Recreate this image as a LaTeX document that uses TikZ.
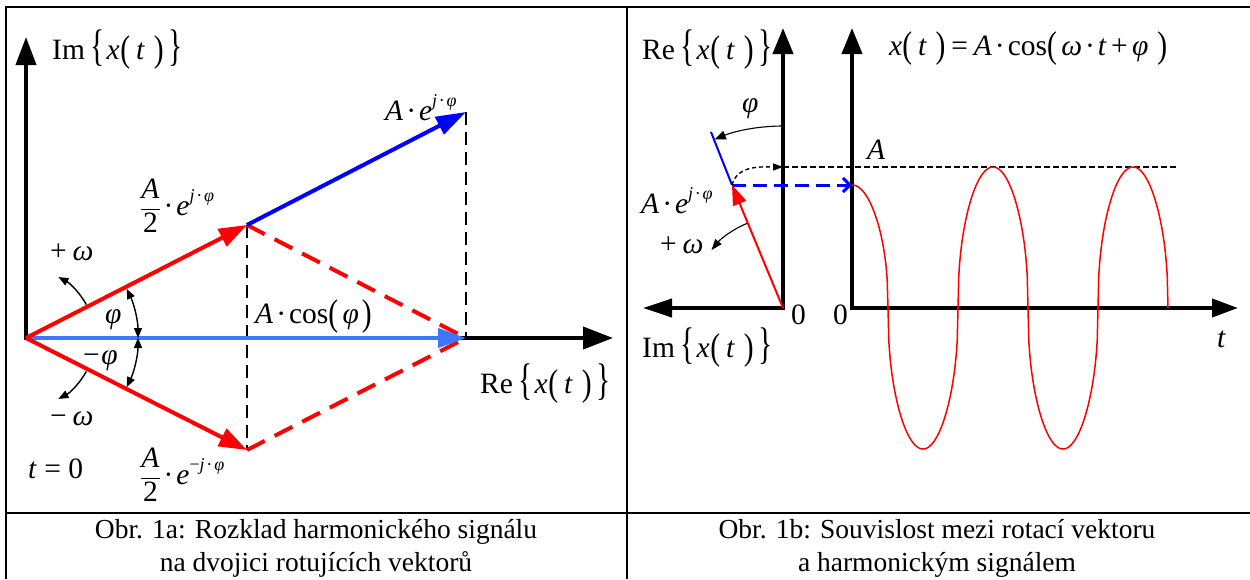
\documentclass[tikz,border=0pt]{standalone}
\usepackage{fontspec}
\setmainfont{Liberation Serif}
\usepackage{graphicx}
\usetikzlibrary{arrows.meta}
\newcommand{\Lp}{\raisebox{-0.07em}{\scalebox{1}[1.26]{(}}}
\newcommand{\Rp}{\raisebox{-0.07em}{\scalebox{1}[1.26]{)}}}
\newcommand{\Lb}{\raisebox{-0.06em}{\scalebox{1}[1.5]{\{}}}
\newcommand{\Rb}{\raisebox{-0.06em}{\scalebox{1}[1.5]{\}}}}
\newcommand{\xoft}{\Lb\kern0.05em\textit{x}\kern0.03em\Lp\kern0.2em\textit{t}\kern0.3em\Rp\kern0.15em\Rb}
\newcommand{\sups}[1]{\raisebox{0.45em}{\fontsize{18}{18}\selectfont #1}}
\newcommand{\cdt}{\kern0.1em·\kern0.1em}
\newcommand{\phii}{\textit{φ}}
\newcommand{\omg}{\textit{ω}}
\newcommand{\halfA}{$\displaystyle\frac{\mbox{\textit{A}}}{\mbox{2}}$}
\begin{document}
\begin{tikzpicture}[x=1pt,y=-1pt,
  declare function={pw(\c)=sqrt(sqrt(\c))*sqrt(sqrt(sqrt(\c)))*sqrt(sqrt(sqrt(sqrt(\c))));},
  lbl/.style={inner sep=0pt, anchor=base west, font=\fontsize{29.5}{32}\selectfont},
  captxt/.style={inner sep=0pt, anchor=base, font=\fontsize{27.5}{32}\selectfont},
  frameline/.style={line width=1.8pt, black},
  bigax/.style={line width=4pt, black},
  bdash/.style={line width=2.4pt, black, dash pattern=on 13pt off 7pt},
  rdash/.style={line width=4pt, red, dash pattern=on 20pt off 11pt},
  thinarc/.style={line width=1.4pt, black},
  smalltip/.style={-{Triangle[length=10pt,width=8pt]}},
]
\useasboundingbox (0,0) rectangle (1250,579);
\fill[white] (0,0) rectangle (1250,579);
% frame
\coordinate (fTR) at (1250,7);
\coordinate (fTL) at (6,7);
\coordinate (fBL) at (6,579);
\coordinate (mT) at (627,7);
\coordinate (mB) at (627,579);
\coordinate (hL) at (6,513);
\coordinate (hR) at (1250,513);
\draw[frameline] (fTR) -- (fTL) -- (fBL);
\draw[frameline] (mT) -- (mB);
\draw[frameline] (hL) -- (hR);

% ---------- left diagram ----------
\coordinate (O1) at (26,338);
\coordinate (ImT) at (26,37);
\coordinate (ReT) at (613,338);
\coordinate (P) at (247,225);
\coordinate (Q) at (247,450);
\coordinate (R) at (466,338);
\coordinate (S) at (466,112);
\draw[bigax, {Triangle[length=28pt,width=20pt]}-{Triangle[length=30pt,width=22pt]}] (ImT) -- (O1) -- (ReT);
\draw[bdash] (P) -- (Q);
\draw[bdash] (S) -- (R);
\draw[rdash] (P) -- (R);
\draw[rdash] (Q) -- (R);
\draw[line width=4pt, color={rgb,255:red,60;green,120;blue,255}, -{Triangle[length=28pt,width=19pt]}] (O1) -- (R);
\draw[line width=4pt, red, -{Triangle[length=28pt,width=19pt]}] (O1) -- (P);
\draw[line width=4pt, red, -{Triangle[length=28pt,width=19pt]}] (O1) -- (Q);
\draw[line width=4pt, blue, -{Triangle[length=30pt,width=19pt]}] (P) -- (S);
% angle arcs
\draw[thinarc, smalltip] (O1) ++(29:69pt) arc[start angle=29, end angle=62, radius=69pt];
\draw[thinarc, smalltip] (O1) ++(-29:69pt) arc[start angle=-29, end angle=-62, radius=69pt];
\draw[thinarc, {Triangle[length=10pt,width=8pt]}-{Triangle[length=10pt,width=8pt]}] (O1) ++(26:112pt) arc[start angle=26, end angle=0, radius=112pt];
\draw[thinarc, {Triangle[length=10pt,width=8pt]}-{Triangle[length=10pt,width=8pt]}] (O1) ++(-26:112pt) arc[start angle=-26, end angle=0, radius=112pt];
% labels
\node[lbl] (imlab) at (52,59) {Im\kern0.2em\xoft};
\node[lbl] (aej) at (385,120) {\textit{A}\cdt\textit{e}\sups{\textit{j}\cdt\phii}};
\node[lbl] (halfp) at (140,215) {\halfA\cdt\textit{e}\sups{\textit{j}\cdt\phii}};
\node[lbl] (pw) at (50,260) {+\kern0.2em\omg};
\node[lbl] (phl) at (105,323) {\phii};
\node[lbl] (acos) at (255,323) {\textit{A}\cdt cos\Lp\kern0.15em\phii\kern0.1em\Rp};
\node[lbl] (mphi) at (83,364) {−\kern0.05em\phii};
\node[lbl] (mw) at (50,425) {−\kern0.2em\omg};
\node[lbl] (relab) at (480,393) {Re\kern0.2em\xoft};
\node[lbl] (t0) at (28,478) {\textit{t}\kern0.25em=\kern0.25em0};
\node[lbl] (halfm) at (140,484) {\halfA\cdt\textit{e}\sups{−\textit{j}\cdt\phii}};

% ---------- right diagram ----------
\coordinate (O2) at (783,308);
\coordinate (ReT2) at (783,28);
\coordinate (ImT2) at (643,308);
\coordinate (O3) at (852,308);
\coordinate (XT) at (852,28);
\coordinate (TT) at (1238,308);
\coordinate (V) at (732,185);
\coordinate (Bl) at (711,132);
\coordinate (H) at (852,185);
\coordinate (Aa) at (783,167);
\coordinate (Ae) at (1177,167);
\draw[bigax, {Triangle[length=29pt,width=18pt]}-{Triangle[length=26pt,width=20pt]}] (ImT2) -- (O2) -- (ReT2);
\draw[bigax, {Triangle[length=26pt,width=20pt]}-{Triangle[length=26pt,width=18pt]}] (XT) -- (O3) -- (TT);
\draw[line width=1.3pt, black, dash pattern=on 6pt off 3pt] (Aa) -- (Ae);
% cosine
\draw[line width=1.5pt, red, line join=round]
  plot[domain=0:90, samples=46, variable=\q] ({852+\q*0.4}, {308-123*pw(abs(cos(\q)))})
  -- plot[domain=90:810, samples=361, variable=\q] ({888+(\q-90)*0.388889}, {308-141*sign(cos(\q))*pw(abs(cos(\q)))});
\draw[line width=2pt, blue] (V) -- (Bl);
\draw[line width=3pt, blue, dash pattern=on 14pt off 7pt, -{Straight Barb[length=7pt,width=14pt]}] (V) -- (H);
\draw[line width=2pt, red, -{Triangle[length=20pt,width=14pt]}] (O2) -- (V);
\draw[thinarc, dash pattern=on 4pt off 3pt, -{Triangle[length=10pt,width=7pt]}] (V) to[out=75,in=180] (Aa);
\draw[line width=1.1pt, black, -{Triangle[length=11pt,width=9pt]}] (O2) ++(90:182pt) arc[start angle=90, end angle=112, radius=182pt];
\draw[line width=1.1pt, black, -{Triangle[length=11pt,width=8pt]}] (O2) ++(113:92pt) arc[start angle=113, end angle=141, radius=92pt];
% labels
\node[lbl] (relab2) at (642,59) {Re\kern0.2em\xoft};
\node[lbl] (phir) at (742,112) {\phii};
\node[lbl] (aej2) at (641,213) {\textit{A}\cdt\textit{e}\sups{\textit{j}\cdt\phii}};
\node[lbl] (pw2) at (660,253) {+\kern0.2em\omg};
\node[lbl] (z1) at (791,324) {0};
\node[lbl] (z2) at (833,324) {0};
\node[lbl] (imlab2) at (642,357) {Im\kern0.2em\xoft};
\node[lbl] (formula) at (889,55) {\textit{x}\Lp\kern0.2em\textit{t}\kern0.3em\Rp\kern0.2em=\kern0.2em\textit{A}\cdt cos\Lp\kern0.15em\omg\cdt\textit{t}\kern0.15em+\kern0.15em\phii\kern0.3em\Rp};
\node[lbl] (alab) at (867,159) {\textit{A}};
\node[lbl] (tlab) at (1217,347) {\textit{t}};

% captions
\node[captxt] (c1a) at (316,538) {Obr. 1a: Rozklad harmonického signálu};
\node[captxt] (c1b) at (316,571) {na dvojici rotujících vektorů};
\node[captxt] (c2a) at (937,538) {Obr. 1b: Souvislost mezi rotací vektoru};
\node[captxt] (c2b) at (937,571) {a harmonickým signálem};
\end{tikzpicture}
\end{document}
